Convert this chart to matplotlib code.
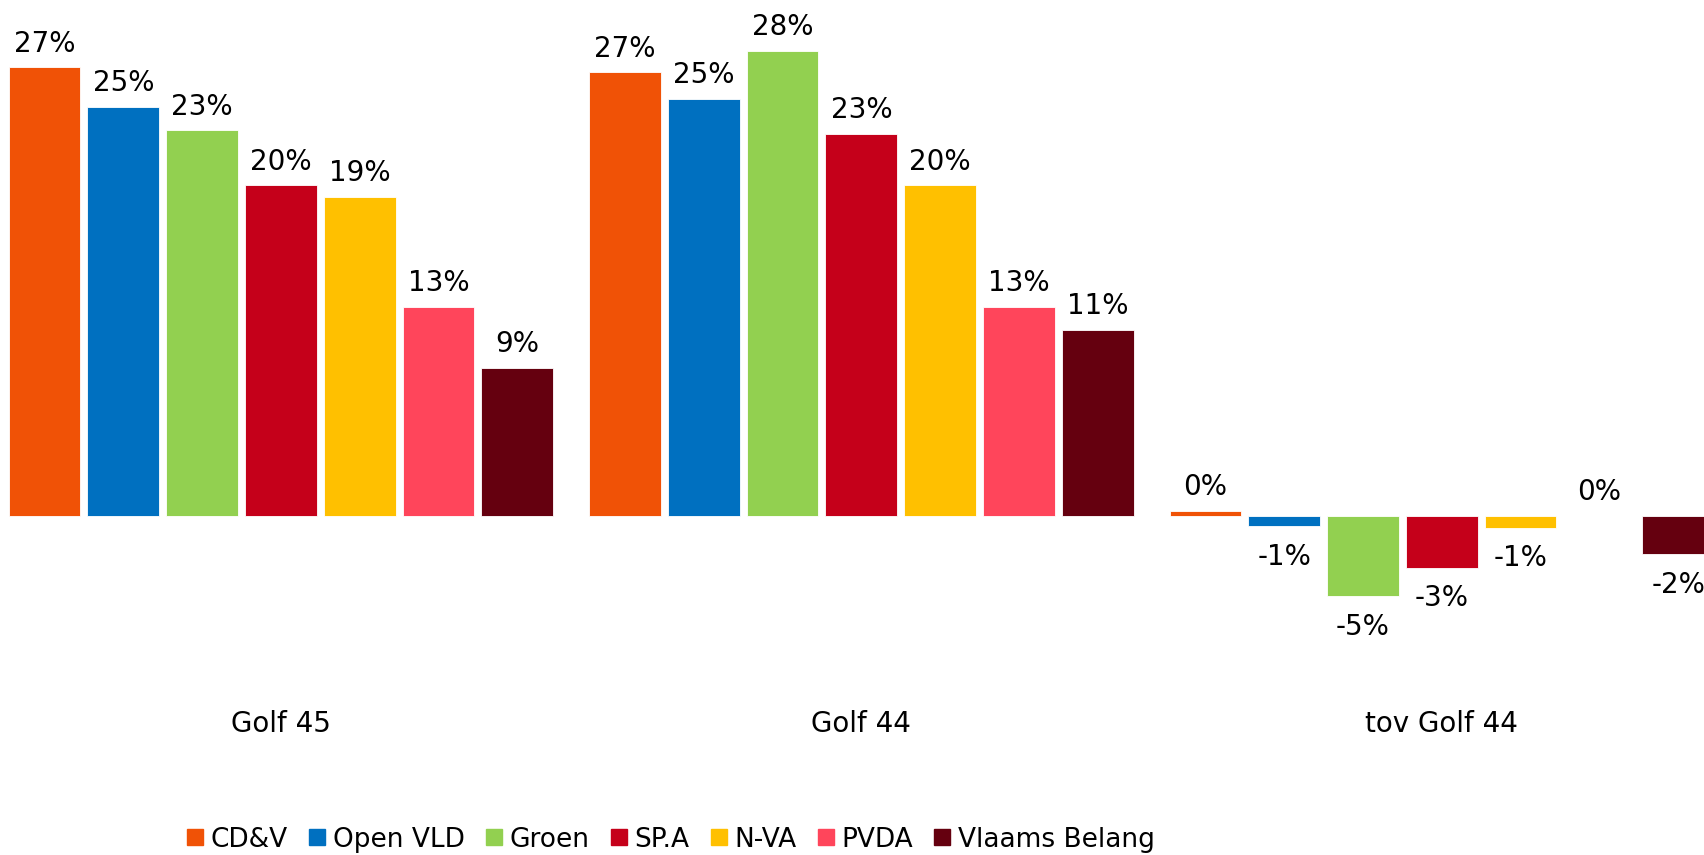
import numpy as np
import matplotlib
matplotlib.use('Agg')
import matplotlib.pyplot as plt
from matplotlib.lines import Line2D

parties = ['CD&V', 'Open VLD', 'Groen', 'SP.A', 'N-VA', 'PVDA', 'Vlaams Belang']
colors = ['#F05206', '#0070C0', '#92D050', '#C5001A', '#FFC000', '#FF455B', '#65000F']
groups = ['Golf 45', 'Golf 44', 'tov Golf 44']

golf45 = [27.0, 24.6, 23.2, 19.9, 19.2, 12.6, 8.9]
golf44 = [26.7, 25.1, 28.0, 23.0, 19.9, 12.6, 11.2]
diff44 = [0.3, -0.6, -4.8, -3.1, -0.7, 0.0, -2.3]

plt.rcParams['font.family'] = ['DejaVu Sans']

fig = plt.figure(figsize=(17.04, 8.55), dpi=100)
ax = fig.add_axes([0, 0, 1, 1])

step = 7.366
width = 0.91
fs = 20
for g, vals in enumerate([golf45, golf44, diff44]):
    xs = g * step + np.arange(len(vals))
    ax.bar(xs, vals, width=width, color=colors, edgecolor='white', linewidth=0.6)
    for x, v in zip(xs, vals):
        lab = '%d%%' % int(np.floor(abs(v) + 0.5) * (1 if v >= 0 else -1))
        if v < 0:
            ax.annotate(lab, (x, v), xytext=(0, -12), textcoords='offset points',
                        ha='center', va='top', fontsize=fs)
        else:
            ax.annotate(lab, (x, v), xytext=(0, 7), textcoords='offset points',
                        ha='center', va='bottom', fontsize=fs)
    ax.text(g * step + 3, -12.5, groups[g], ha='center', va='center', fontsize=fs)

ax.set_xlim(-0.565, 21.06)
ax.set_ylim(-20.39, 31.05)
ax.axis('off')

handles = [Line2D([], [], marker='s', linestyle='none', markersize=12,
                  markerfacecolor=c, markeredgecolor=c) for c in colors]
fig.legend(handles, parties, loc='center', bbox_to_anchor=(0.393, 0.018),
           ncol=7, frameon=False, fontsize=19, handletextpad=0.2,
           columnspacing=0.7, handlelength=0.8)

fig.savefig('out.png', dpi=100)
